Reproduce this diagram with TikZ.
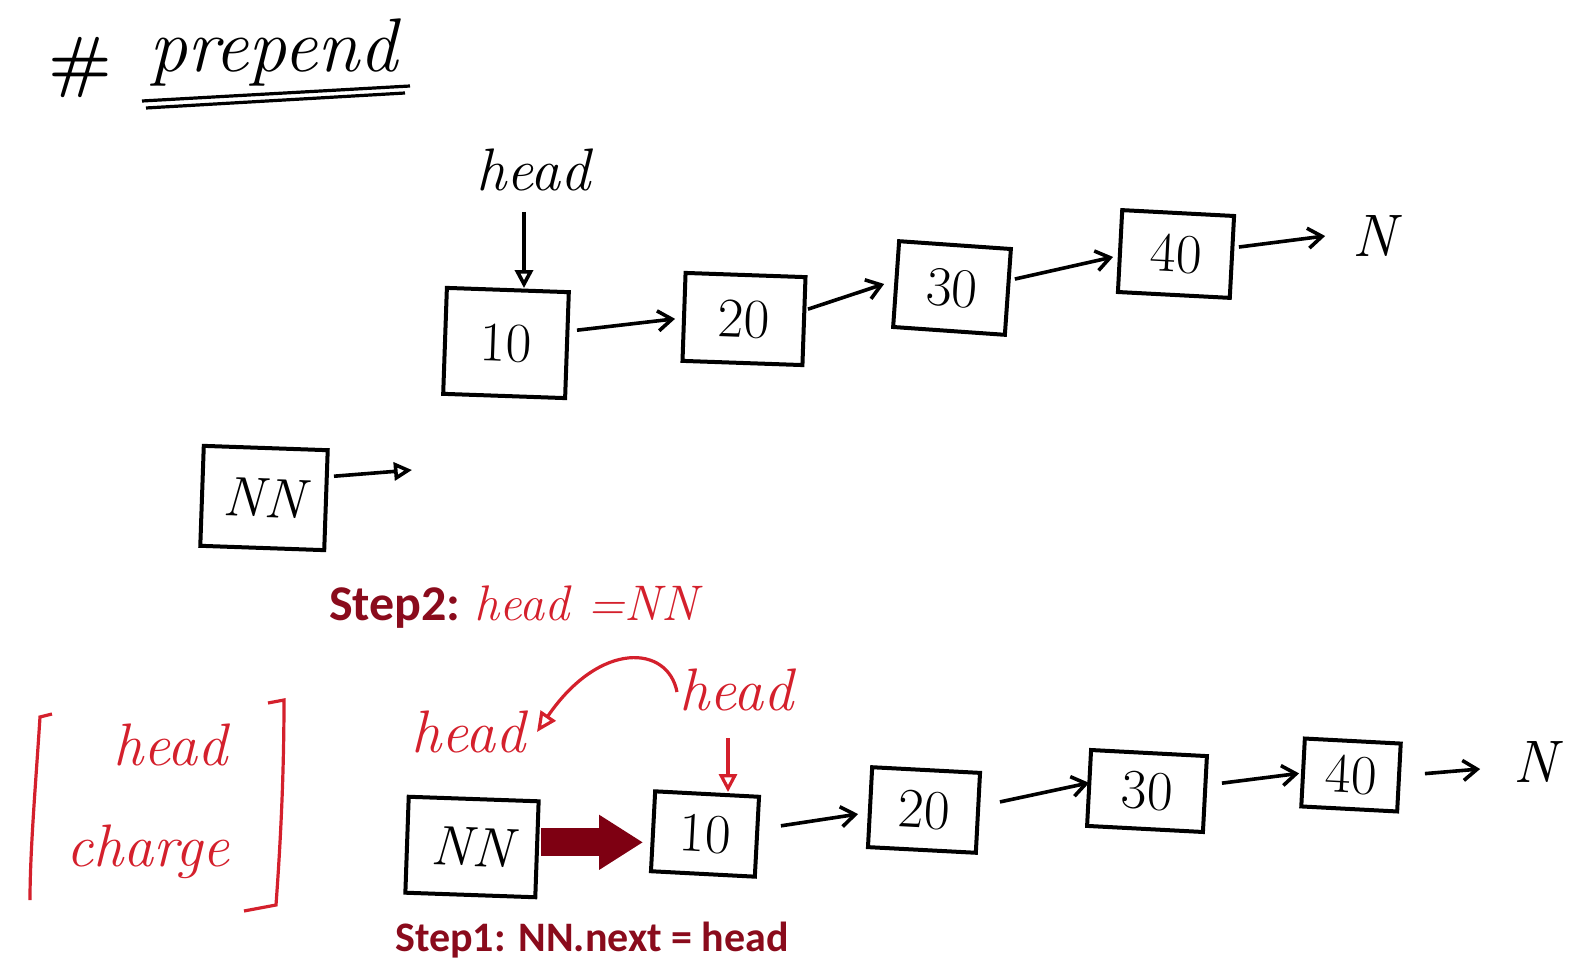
\documentclass[tikz,border=0pt]{standalone}
\usepackage{fontspec}
\newfontfamily\stepfont{Carlito}
\usetikzlibrary{arrows.meta,calc}
\definecolor{hand}{HTML}{D4202C}
\definecolor{dred}{HTML}{8A0B1C}
\definecolor{fat}{HTML}{7E0012}
\tikzset{
  hw/.style={font=\fontsize{30}{32}\selectfont\itshape},
  cell/.style={draw=black, line width=2pt, inner sep=0pt, font=\fontsize{28}{30}\selectfont},
  link/.style={line width=1.8pt, -{Straight Barb[length=7pt,width=10pt]}},
  ptr/.style={line width=1.8pt, -{Triangle[open,length=9pt,width=9pt]}},
  steplbl/.style={text=dred},
  redhw/.style={hw, text=hand},
}
\begin{document}
\begin{tikzpicture}[x=0.5pt,y=-0.5pt]
\useasboundingbox (0,0) rectangle (1596,973);
% title
\node[font=\fontsize{34}{36}\selectfont\bfseries] (hash) at (80,68) {\#};
\node[font=\fontsize{38}{40}\selectfont\itshape, anchor=base west] (title) at (142,72) {prepend};
\draw[line width=1.6pt] (142,101) -- (410,86);
\draw[line width=1.6pt] (146,108) -- (405,93);
% top list
\node[hw] (headT) at (533,170) {head};
\node[cell, minimum width=61pt, minimum height=53pt, rotate=-2] (t1) at (506,343) {10};
\node[cell, minimum width=60pt, minimum height=44pt, rotate=-2] (t2) at (744,319) {20};
\node[cell, minimum width=56pt, minimum height=43pt, rotate=-4] (t3) at (952,288) {30};
\node[cell, minimum width=56pt, minimum height=41pt, rotate=-3] (t4) at (1176,254) {40};
\node[font=\fontsize{30}{32}\selectfont\itshape] (tN) at (1374,236) {N};
\coordinate (hs) at (524,212);
\draw[ptr] (hs) -- (hs |- t1.north);
\draw[link] ($(t1.east)+(8,-15)$) -- ($(t2.west)+(-7,2)$);
\draw[link] ($(t2.east)+(2,-12)$) -- ($(t3.west)+(-10,0)$);
\draw[link] ($(t3.east)+(5,-13)$) -- ($(t4.west)+(-5,6)$);
\draw[link] ($(t4.east)+(5,-10)$) -- ($(tN.west)+(-20,0)$);
% new node
\node[cell, minimum width=62pt, minimum height=50pt, rotate=-2] (nnT) at (264,498) {\itshape NN};
\coordinate (nnEnd) at (412,470);
\draw[ptr] ($(nnT.east)+(6,-24)$) -- (nnEnd);
% step 2
\node[steplbl, anchor=base west, font=\fontsize{25}{28}\stepfont\bfseries] (step2) at (322,620) {Step2:};
\node[redhw, anchor=base west, font=\fontsize{25}{27}\selectfont\itshape] (step2b) at (step2.base east) {head =NN};
% bracket
\draw[hand, line width=1.6pt] (52,714) -- (40,717) .. controls (36,780) and (30,850) .. (30,900);
\draw[hand, line width=1.6pt] (268,703) -- (284,700) .. controls (284,780) and (280,850) .. (276,905) -- (244,911);
\node[redhw] (hc1) at (170,745) {head};
\node[redhw] (hc2) at (148,852) {charge};
% bottom list
\node[redhw] (hL) at (468,732) {head};
\node[redhw] (hR) at (736,690) {head};
\node[cell, minimum width=65pt, minimum height=48pt, rotate=-2] (b0) at (472,847) {\itshape NN};
\node[cell, minimum width=52pt, minimum height=40pt, rotate=-3] (b1) at (705,834) {10};
\node[cell, minimum width=54pt, minimum height=40pt, rotate=-3] (b2) at (924,810) {20};
\node[cell, minimum width=58pt, minimum height=38pt, rotate=-3] (b3) at (1147,791) {30};
\node[cell, minimum width=48pt, minimum height=34pt, rotate=-3] (b4) at (1351,775) {40};
\node[font=\fontsize{30}{32}\selectfont\itshape] (bN) at (1535,762) {N};
\coordinate (hrs) at (728,738);
\draw[hand, line width=1.6pt, -{Triangle[open,length=9pt,width=9pt]}] (hrs) -- (hrs |- b1.north);
\coordinate (cs) at (677,692);
\coordinate (ce) at (537,732);
\draw[hand, line width=1.6pt, -{Triangle[open,length=10pt,width=9pt]}] (cs) .. controls (668,645) and (600,640) .. (ce);
\coordinate (fs) at ($(b0.east)+(2,-7)$);
\draw[fat, line width=14pt, -{Triangle[length=22pt,width=26pt]}] (fs) -- ([xshift=-4pt]fs -| b1.west);
\draw[link] ($(b1.east)+(22,-11)$) -- ($(b2.west)+(-10,7)$);
\draw[link] ($(b2.east)+(20,-11)$) -- ($(b3.west)+(2,-5)$);
\draw[link] ($(b3.east)+(15,-11)$) -- ($(b4.west)+(-2,1)$);
\draw[link] ($(b4.east)+(24,-4)$) -- ($(bN.west)+(-26,7)$);
% step 1
\node[steplbl, font=\fontsize{21}{24}\stepfont\bfseries] (step1) at (592,940) {Step1: NN.next = head};
\end{tikzpicture}
\end{document}
